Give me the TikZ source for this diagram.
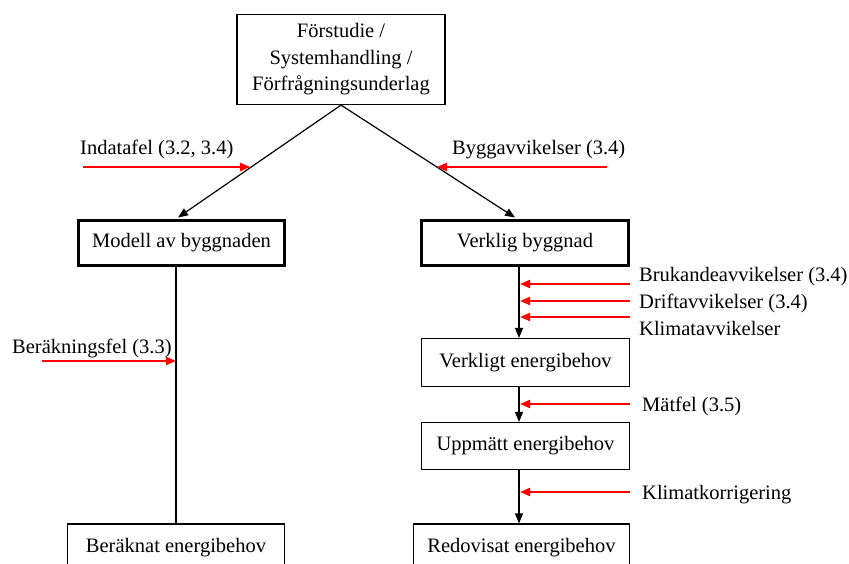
\documentclass[tikz,border=0pt]{standalone}
\usepackage{fontspec}
\setmainfont{Liberation Serif}
\usetikzlibrary{arrows.meta,calc}
\begin{document}
\begin{tikzpicture}[x=1pt,y=-1pt,
  every node/.style={font=\fontsize{20.5}{26.5}\selectfont},
  box/.style={draw, line width=1.2pt, fill=white, inner sep=0pt, align=center},
  thickbox/.style={box, line width=3pt},
  flow/.style={draw=black, line width=1.2pt, -{Triangle[length=10pt,width=8pt]}},
  plain/.style={draw=black, line width=1.2pt},
  err/.style={draw=red, line width=2pt, -{Triangle[length=10pt,width=8pt]}},
  lbl/.style={inner sep=0pt, anchor=base west}]
\useasboundingbox (0,0) rectangle (849,564);
\fill[white] (0,0) rectangle (849,564);
\clip (0,0) rectangle (849,564);

% boxes
\node[box, minimum width=208pt, minimum height=90pt] (top) at (341,59.5) {Förstudie /\\Systemhandling /\\Förfrågningsunderlag};
\node[thickbox, minimum width=206pt, minimum height=45pt] (modell) at (181.5,243) {Modell av byggnaden};
\node[thickbox, minimum width=207pt, minimum height=45pt] (verklig) at (525,243) {Verklig byggnad};
\node[box, minimum width=208pt, minimum height=48pt] (verkligt) at (525.5,362.5) {Verkligt energibehov};
\node[box, minimum width=208pt, minimum height=47pt] (uppmatt) at (525.5,446) {Uppmätt energibehov};
\node[box, minimum width=216pt, minimum height=48pt] (redov) at (521.5,548) {Redovisat energibehov};
\node[box, minimum width=217pt, minimum height=48pt] (berak) at (176,548) {Beräknat energibehov};

% diagonal connectors
\coordinate (mtip) at ($(modell.north)+(-3.5,-1.5)$);
\coordinate (vtip) at ($(verklig.north)+(-10,-1.5)$);
\draw[flow] (top.south) -- (mtip);
\draw[flow] (top.south) -- (vtip);

% vertical connectors
\coordinate (rc) at (519,0);
\draw[plain] (berak.north |- modell.south) -- (berak.north);
\draw[flow] (rc |- verklig.south) -- (rc |- verkligt.north);
\draw[flow] (rc |- verkligt.south) -- (rc |- uppmatt.north);
\draw[flow] (rc |- uppmatt.south) -- (rc |- redov.north);

% red error arrows on diagonals
\coordinate (ia) at (83,167);
\coordinate (ib) at ($(top.south)!0.545!(mtip)$);
\draw[err, shorten >=2pt] (ia) -- (ia -| ib);
\coordinate (ba) at (607,167);
\coordinate (bb) at ($(top.south)!0.545!(vtip)$);
\draw[err, shorten >=1pt] (ba) -- (ba -| bb);

% left vertical red arrow
\coordinate (ka) at (42,361);
\draw[err] (ka) -- (ka -| berak.north);

% right red arrows
\coordinate (r1) at (630,284);
\coordinate (r2) at (630,301);
\coordinate (r3) at (630,317);
\coordinate (r4) at (630,404);
\coordinate (r5) at (630,492);
\foreach \p in {r1,r2,r3,r4,r5}{\draw[err, shorten >=1pt] (\p) -- (\p -| rc);}

% labels
\node[lbl] (lind) at (80,155) {Indatafel (3.2, 3.4)};
\node[lbl] (lbyg) at (452,155) {Byggavvikelser (3.4)};
\node[lbl] (lber) at (12,353) {Beräkningsfel (3.3)};
\node[lbl] (lbru) at (639,282) {Brukandeavvikelser (3.4)};
\node[lbl] (ldri) at (639,308.5) {Driftavvikelser (3.4)};
\node[lbl] (lkli) at (639,335) {Klimatavvikelser};
\node[lbl] (lmat) at (642,411.5) {Mätfel (3.5)};
\node[lbl] (lkor) at (642,499) {Klimatkorrigering};
\end{tikzpicture}
\end{document}
